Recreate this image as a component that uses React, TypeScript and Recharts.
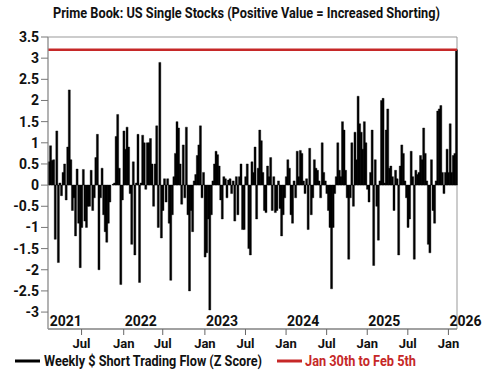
import React from 'react';
import { BarChart, Bar, XAxis, YAxis, ReferenceLine, ReferenceArea } from 'recharts';

// Weekly $ short trading flow (Z score), Feb 2021 - Feb 2026
const FLOW_A = [0.55, 0.93, 0.58, 0.6, -1.28, 1.28, -1.83, 0.05, -0.25, 0.3, 0.5, -0.35, 0.9, 2.25, 0.6, -0.6, -0.3, -1.2, 0.38, -0.9, -1.95, -1.0, 0.37, -0.85, -1.0, -0.5, -0.5, 0.35, -0.6, -0.3, 0.65, 1.2, -2.0, -0.3, 0.4, -0.7, -1.1, -1.35, -0.9, -0.4, 0.0, 0.02, 0.05, 1.15, 1.67, 0.4, -2.35, -0.35, 1.28, 0.85, 1.37, 0.9, -0.2, -1.4, 0.55, -1.65, 0.05, 1.2, -2.3, 0.05, 1.18, 1.0, -0.1, 1.0, 1.0];
const FLOW_B = [1.1, 0.5, -0.5, 0.5, 1.4, -1.0, 2.9, -1.25, -0.6, 0.15, -0.4, 0.15, -0.9, -2.25, -0.7, 0.2, 0.75, 1.5, 1.35, 0.5, -0.45, 0.95, -0.3, 1.37, -0.7, -2.5, -0.6, -1.1, 0.1, 0.25, 0.7, 0.95, 1.4, -0.3, 0.3, -1.7, -1.6, -0.8, -2.95, -0.7, 0.1, 0.5, 0.8, 0.72, 0.45, -0.35, -0.8, 0.2, 0.15, -0.3, 0.12, 0.15, -0.2, 0.1, -0.85, 0.2, -0.7, 0.2, 0.5, -1.05, -1.05, 0.2, 0.5, -1.5, -1.65];
const FLOW_C = [0.55, 0.3, 0.9, -0.8, 0.4, 1.3, 1.05, 0.3, -0.6, -0.65, 0.45, 0.2, 0.65, -0.6, 0.2, -0.65, -0.6, 0.1, -0.55, -1.2, -0.7, -0.3, 0.2, 0.6, 0.4, -0.7, -0.9, 0.1, -0.3, 0.8, 0.2, 0.82, 0.75, 0.1, -0.2, 0.15, -1.05, 0.87, -0.7, -0.3, 0.6, 0.4, 0.35, 0.1, -0.3, 1.0, 0.3, 0.1, -0.2, -0.6, -1.0, -2.45, -1.0, -0.2, 0.2, 1.0, 0.35, 0.2, 1.5, 1.3, 0.35, -0.3, -1.75, -0.3, 1.0];
const FLOW_D = [-0.5, 1.25, 0.6, 2.1, 1.45, 1.25, 0.85, 1.5, 1.0, -0.1, -0.4, 0.3, 1.3, -1.9, 0.6, -0.5, -1.3, 0.1, 2.0, 2.05, 0.05, 1.3, 1.8, 0.4, 0.45, 0.2, -0.6, 0.35, 0.15, -1.65, 0.45, 0.95, 0.75, 0.1, -0.3, -1.0, -0.8, 0.8, 0.2, -1.75, 0.35, 0.25, 0.3, 0.7, 0.6, 1.35, 0.75, 0.1, -1.4, -1.6, 0.6, -0.6, -0.9, 0.1, 1.75, 1.8, 1.88, 0.3, -0.2, 0.3, 0.85, 0.3, 1.45, 0.3, 0.7, 0.75, 3.2];
const FLOW = [...FLOW_A, ...FLOW_B, ...FLOW_C, ...FLOW_D];

const START_DATE = Date.UTC(2021, 1, 5);
const WEEK_MS = 7 * 24 * 3600 * 1000;
const YEARS = [2021, 2022, 2023, 2024, 2025, 2026];
const HALF_MONTHS = [0, 6];
const MONTH_LABELS = ['Jan', 'Jul'];
const Y_TICKS = [-3, -2.5, -2, -1.5, -1, -0.5, 0, 0.5, 1, 1.5, 2, 2.5, 3, 3.5];
const HIGHLIGHT = 3.2;
const TITLE = 'Prime Book: US Single Stocks (Positive Value = Increased Shorting)';
const SERIES_NAME = 'Weekly $ Short Trading Flow (Z Score)';
const HIGHLIGHT_NAME = 'Jan 30th to Feb 5th';

const FONT = "Roboto, 'Liberation Sans', sans-serif";
const RED = '#c62828';

const data = FLOW.map((v, i) => ({
  date: new Date(START_DATE + i * WEEK_MS).toISOString().slice(0, 10),
  v,
}));

const tickInfo: Record<string, { month?: string; year?: string }> = {};
YEARS.forEach((yr) => {
  HALF_MONTHS.forEach((m, mi) => {
    const target = Date.UTC(yr, m, 1);
    const idx = data.findIndex((d) => Date.parse(d.date) >= target);
    if (idx < 0) return;
    const diff = Date.parse(data[idx].date) - target;
    const key = data[idx].date;
    if (diff > WEEK_MS) {
      if (m === 0) tickInfo[key] = { year: String(yr) };
      return;
    }
    tickInfo[key] = { ...(tickInfo[key] || {}), month: MONTH_LABELS[mi], ...(m === 0 ? { year: String(yr) } : {}) };
  });
});
const X_TICKS = Object.keys(tickInfo);

const AxisTick = (props: any) => {
  const { x, y, payload } = props;
  const info = tickInfo[payload.value];
  if (!info) return null;
  return (
    <g>
      {info.month && <line x1={x} x2={x} y1={y} y2={y + 6} stroke="#666" strokeWidth={1} />}
      {info.month && (
        <text x={x} y={y + 19} textAnchor="middle" fontFamily={FONT} fontWeight={700} fontSize={13} fill="#111">
          {info.month}
        </text>
      )}
      {info.year && (
        <text x={x + 1} y={y - 3} textAnchor="start" fontFamily={FONT} fontWeight={700} fontSize={14} fill="#111">
          {info.year}
        </text>
      )}
    </g>
  );
};

export default function App() {
  return (
    <div style={{ position: 'absolute', left: 0, top: 0, width: 500, height: 380, background: '#fff' }}>
      <BarChart
        width={500}
        height={380}
        data={data}
        margin={{ top: 37, right: 43, bottom: 21, left: 0 }}
        barCategoryGap={0}
        barGap={0}
      >
        <ReferenceArea y1={-3.4} y2={3.5} fill="none" stroke="#999" strokeWidth={1} />
        <XAxis
          dataKey="date"
          ticks={X_TICKS}
          interval={0}
          tick={<AxisTick />}
          tickLine={false}
          tickSize={0}
          tickMargin={0}
          height={30}
          axisLine={{ stroke: '#777' }}
        />
        <YAxis
          width={48}
          domain={[-3.4, 3.5]}
          ticks={Y_TICKS}
          interval={0}
          allowDataOverflow
          tickSize={7}
          tickMargin={2}
          tickLine={{ stroke: '#777' }}
          axisLine={{ stroke: '#999' }}
          tick={{ fontFamily: FONT, fontWeight: 700, fontSize: 14, fill: '#111' }}
        />
        <Bar dataKey="v" fill="#000" stroke="#000" strokeWidth={0.4} isAnimationActive={false} />
        <ReferenceLine y={HIGHLIGHT} stroke={RED} strokeWidth={2.5} ifOverflow="extendDomain" />
      </BarChart>
      <svg width={500} height={380} style={{ position: 'absolute', left: 0, top: 0, pointerEvents: 'none' }}>
        <text x={246.5} y={18} textAnchor="middle" fontFamily={FONT} fontWeight={700} fontSize={14.5} fill="#111" textLength={387} lengthAdjust="spacingAndGlyphs">
          {TITLE}
        </text>
        <line x1={15} x2={40} y1={361} y2={361} stroke="#000" strokeWidth={3} />
        <text x={44} y={366} fontFamily={FONT} fontWeight={700} fontSize={14} fill="#111" textLength={218} lengthAdjust="spacingAndGlyphs">
          {SERIES_NAME}
        </text>
        <line x1={277} x2={302} y1={361} y2={361} stroke={RED} strokeWidth={3} />
        <text x={305} y={366} fontFamily={FONT} fontWeight={700} fontSize={14} fill={RED} textLength={111} lengthAdjust="spacingAndGlyphs">
          {HIGHLIGHT_NAME}
        </text>
      </svg>
    </div>
  );
}
